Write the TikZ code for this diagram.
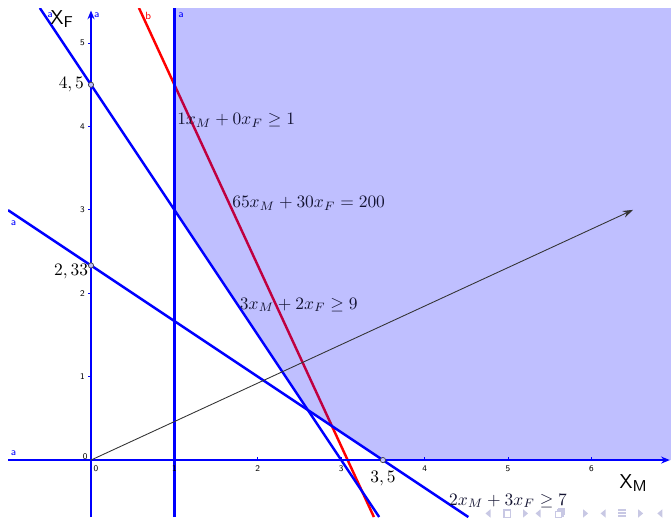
\documentclass[tikz,border=0pt]{standalone}
\usetikzlibrary{arrows.meta}
\definecolor{ggblue}{RGB}{0,0,255}
\definecolor{ggred}{RGB}{255,0,0}
\definecolor{navc}{RGB}{200,200,228}
\definecolor{eqc}{RGB}{20,20,50}
\begin{document}
\begin{tikzpicture}[x=1.68cm,y=1.68cm,
  bline/.style={ggblue,line width=1.4pt},
  rline/.style={ggred,line width=1.4pt},
  ticklab/.style={font=\fontsize{5}{5}\sffamily,inner sep=0pt},
  tagb/.style={font=\fontsize{6}{6}\sffamily,text=ggblue,inner sep=0pt},
  tagr/.style={font=\fontsize{6}{6}\sffamily,text=ggred,inner sep=0pt},
  eqlab/.style={text=eqc,inner sep=0pt,anchor=west},
  axlab/.style={font=\fontsize{11.5}{12}\sffamily,inner sep=0pt},
  ptlab/.style={inner sep=0pt},
  pt/.style={circle,draw=darkgray,fill=ggblue!25,line width=0.4pt,inner sep=0pt,minimum size=3pt},
  navtri/.style={fill=navc,draw=none}]
\useasboundingbox (-1.091,-0.683) rectangle (6.954,5.516);
% coordinates
\coordinate (O) at (0,0);
\coordinate (yb) at (0,-0.683);
\coordinate (yt) at (0,5.39);
\coordinate (xl) at (-0.995,0);
\coordinate (xr) at (6.94,0);
\coordinate (vb) at (1,-0.683);
\coordinate (vt) at (1,5.42);
\coordinate (rt) at (0.5754,5.42);
\coordinate (rb) at (3.3923,-0.683);
\coordinate (ct) at (-0.6133,5.42);
\coordinate (cb) at (3.4553,-0.683);
\coordinate (dl) at (-0.995,2.9967);
\coordinate (db) at (4.5245,-0.683);
\coordinate (vec) at (6.5,3);
\begin{scope}
\clip (-0.995,-0.683) rectangle (6.954,5.42);
\draw[rline] (rt) -- (rb);
\fill[ggblue,opacity=0.25] (1,5.42) -- (1,3) -- (2.6,0.6) -- (3.5,0) -- (6.954,0) -- (6.954,5.42) -- cycle;
\draw[bline] (vb) -- (vt);
\draw[bline] (ct) -- (cb);
\draw[bline] (dl) -- (db);
\draw[bline,-{Stealth[length=5pt,width=4pt]}] (yb) -- (yt);
\draw[bline,-{Stealth[length=5pt,width=4pt]}] (xl) -- (xr);
\draw[black!80,line width=0.5pt,-{Stealth[length=6pt,width=4pt]}] (O) -- (vec);
\end{scope}
% ticks
\foreach \i in {1,...,6} {
  \draw[ggblue,line width=0.4pt] (\i,0) -- (\i,0.04);
  \node[ticklab] (tx\i) at (\i,-0.1) {\i};
}
\foreach \j in {1,...,5} {
  \draw[ggblue,line width=0.4pt] (0,\j) -- (-0.04,\j);
  \node[ticklab,anchor=east] (ty\j) at (-0.07,\j) {\j};
}
\node[ticklab] (tx0) at (0.06,-0.1) {0};
\node[ticklab] (ty0) at (-0.07,0.04) {0};
% line tags
\node[tagb] (ta1) at (-0.49,5.34) {a};
\node[tagb] (ta2) at (0.07,5.33) {a};
\node[tagr] (tb1) at (0.685,5.33) {b};
\node[tagb] (ta3) at (1.08,5.33) {a};
\node[tagb] (ta4) at (-0.93,2.84) {a};
\node[tagb] (ta5) at (-0.93,0.08) {a};
% axis labels
\node[axlab] (XF) at (-0.35,5.29) {X\raisebox{-0.35ex}{\fontsize{9}{9}\selectfont F}};
\node[axlab] (XM) at (6.5,-0.28) {X\raisebox{-0.35ex}{\fontsize{9}{9}\selectfont M}};
% points
\node[pt] (p1) at (0,4.5) {};
\node[pt] (p2) at (0,2.3333) {};
\node[pt] (p3) at (3.5,0) {};
\node[ptlab,anchor=east] (l1) at (-0.08,4.5) {$4,5$};
\node[ptlab,anchor=east] (l2) at (-0.03,2.26) {$2,33$};
\node[ptlab] (l3) at (3.5,-0.22) {$3,5$};
% equations
\node[eqlab] (e1) at (1.03,4.07) {$1x_M+0x_F\geq 1$};
\node[eqlab] (e2) at (1.69,3.08) {$65x_M+30x_F=200$};
\node[eqlab] (e3) at (1.78,1.86) {$3x_M+2x_F\geq 9$};
\node[eqlab] (e4) at (4.29,-0.49) {$2x_M+3x_F\geq 7$};
% navigation symbols
\fill[navtri] (4.79,-0.69) -- (4.79,-0.59) -- (4.73,-0.64) -- cycle;
\draw[navc,line width=0.8pt] (4.95,-0.69) rectangle (5.03,-0.6);
\fill[navtri] (5.18,-0.69) -- (5.18,-0.59) -- (5.24,-0.64) -- cycle;
\fill[navtri] (5.39,-0.69) -- (5.39,-0.59) -- (5.33,-0.64) -- cycle;
\draw[navc,line width=0.8pt] (5.57,-0.69) rectangle (5.64,-0.62);
\draw[navc,line width=0.8pt] (5.59,-0.62) -- (5.59,-0.6) -- (5.66,-0.6) -- (5.66,-0.67) -- (5.64,-0.67);
\draw[navc,line width=0.8pt] (5.61,-0.6) -- (5.61,-0.58) -- (5.68,-0.58) -- (5.68,-0.65) -- (5.66,-0.65);
\fill[navtri] (5.90,-0.69) -- (5.90,-0.59) -- (5.96,-0.64) -- cycle;
\fill[navtri] (6.17,-0.69) -- (6.17,-0.59) -- (6.11,-0.64) -- cycle;
\draw[navc,line width=0.8pt] (6.32,-0.6) -- (6.41,-0.6) (6.32,-0.635) -- (6.41,-0.635) (6.32,-0.67) -- (6.41,-0.67);
\fill[navtri] (6.56,-0.69) -- (6.56,-0.59) -- (6.62,-0.64) -- cycle;
\fill[navtri] (6.85,-0.69) -- (6.85,-0.59) -- (6.79,-0.64) -- cycle;
\end{tikzpicture}
\end{document}
